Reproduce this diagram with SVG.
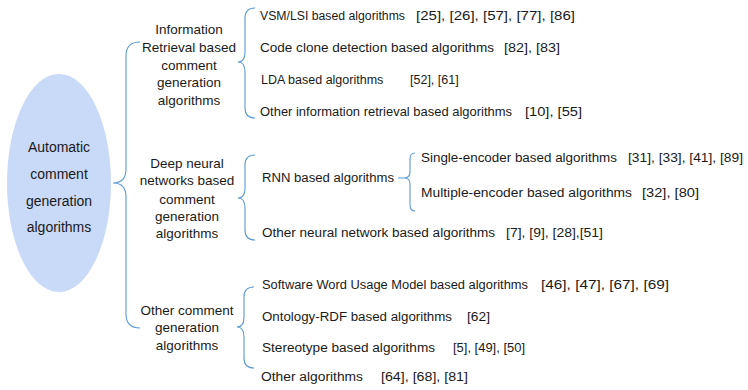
<svg xmlns="http://www.w3.org/2000/svg" width="748" height="390" viewBox="0 0 748 390">
<style>
text{font-family:"Liberation Sans",Arial,sans-serif;fill:#1a1a1a}
.c{font-size:13.5px;text-anchor:middle}
.e{font-size:14px;text-anchor:middle}
.l{font-size:12.5px}
.b{fill:none;stroke:#5b9bd5;stroke-width:1.1}
</style>
<rect width="748" height="390" fill="#ffffff"/>
<g id="root">
<ellipse cx="59" cy="183" rx="52" ry="109" fill="#c9d9f8"/>
<text class="e" x="59" y="151.5">Automatic</text>
<text class="e" x="59" y="178.5">comment</text>
<text class="e" x="59" y="205.5">generation</text>
<text class="e" x="59" y="231.5">algorithms</text>
</g>
<g id="connectors">
<path class="b" d="M140,42 Q126,42 126,56 L126,169 Q126,183 113,183 Q126,183 126,197 L126,314 Q126,328 140,328"/>
<path class="b" d="M255,8 Q245,8 245,18 L245,52 Q245,62 238,62 Q245,62 245,72 L245,108 Q245,118 255,118"/>
<path class="b" d="M255,155 Q245,155 245,165 L245,188 Q245,198 238,198 Q245,198 245,208 L245,230 Q245,240 255,240"/>
<path class="b" d="M254,287 Q244,287 244,297 L244,317 Q244,327 237,327 Q244,327 244,337 L244,358 Q244,368 254,368"/>
<path class="b" d="M415,153 Q410,153 410,159 L410,172 Q410,178 404,178 L398,178 M404,178 Q410,178 410,184 L410,205 Q410,211 415,211"/>
</g>
<g id="cat-ir">
<text class="c" x="189" y="34">Information</text>
<text class="c" x="189" y="52">Retrieval based</text>
<text class="c" x="189" y="69.5">comment</text>
<text class="c" x="189" y="87">generation</text>
<text class="c" x="189" y="104.5">algorithms</text>
</g>
<g id="cat-dnn">
<text class="c" x="187" y="168">Deep neural</text>
<text class="c" x="187" y="185">networks based</text>
<text class="c" x="187" y="203.5">comment</text>
<text class="c" x="187" y="221">generation</text>
<text class="c" x="187" y="238">algorithms</text>
</g>
<g id="cat-other">
<text class="c" x="187" y="314.5">Other comment</text>
<text class="c" x="187" y="332">generation</text>
<text class="c" x="187" y="349.5">algorithms</text>
</g>
<g id="leaf-vsm">
<text class="l" x="260" y="19.5" textLength="145" lengthAdjust="spacingAndGlyphs">VSM/LSI based algorithms</text>
<text class="l" x="416" y="19.5" textLength="159" lengthAdjust="spacingAndGlyphs">[25], [26], [57], [77], [86]</text>
</g>
<g id="leaf-clone">
<text class="l" x="260" y="51.5" textLength="234" lengthAdjust="spacingAndGlyphs">Code clone detection based algorithms</text>
<text class="l" x="504" y="51.5" textLength="56" lengthAdjust="spacingAndGlyphs">[82], [83]</text>
</g>
<g id="leaf-lda">
<text class="l" x="261" y="84">LDA based algorithms</text>
<text class="l" x="410" y="84">[52], [61]</text>
</g>
<g id="leaf-otherir">
<text class="l" x="260" y="115.5" textLength="252" lengthAdjust="spacingAndGlyphs">Other information retrieval based algorithms</text>
<text class="l" x="525" y="115.5" textLength="57" lengthAdjust="spacingAndGlyphs">[10], [55]</text>
</g>
<g id="leaf-rnn">
<text class="l" x="262" y="181.5" textLength="132" lengthAdjust="spacingAndGlyphs">RNN based algorithms</text>
</g>
<g id="leaf-single">
<text class="l" x="421" y="162" textLength="196" lengthAdjust="spacingAndGlyphs">Single-encoder based algorithms</text>
<text class="l" x="628" y="162" textLength="115" lengthAdjust="spacingAndGlyphs">[31], [33], [41], [89]</text>
</g>
<g id="leaf-multi">
<text class="l" x="421" y="196.5" textLength="211" lengthAdjust="spacingAndGlyphs">Multiple-encoder based algorithms</text>
<text class="l" x="642" y="196.5" textLength="57" lengthAdjust="spacingAndGlyphs">[32], [80]</text>
</g>
<g id="leaf-otherdnn">
<text class="l" x="262" y="236.5" textLength="233" lengthAdjust="spacingAndGlyphs">Other neural network based algorithms</text>
<text class="l" x="506" y="236.5" textLength="97" lengthAdjust="spacingAndGlyphs">[7], [9], [28],[51]</text>
</g>
<g id="leaf-swum">
<text class="l" x="262" y="289" textLength="266" lengthAdjust="spacingAndGlyphs">Software Word Usage Model based algorithms</text>
<text class="l" x="541" y="289" textLength="128" lengthAdjust="spacingAndGlyphs">[46], [47], [67], [69]</text>
</g>
<g id="leaf-ontology">
<text class="l" x="262" y="320.5" textLength="190" lengthAdjust="spacingAndGlyphs">Ontology-RDF based algorithms</text>
<text class="l" x="467" y="320.5" textLength="23" lengthAdjust="spacingAndGlyphs">[62]</text>
</g>
<g id="leaf-stereo">
<text class="l" x="262" y="351.5" textLength="173" lengthAdjust="spacingAndGlyphs">Stereotype based algorithms</text>
<text class="l" x="453" y="351.5" textLength="72" lengthAdjust="spacingAndGlyphs">[5], [49], [50]</text>
</g>
<g id="leaf-otheralg">
<text class="l" x="261" y="380.5" textLength="102" lengthAdjust="spacingAndGlyphs">Other algorithms</text>
<text class="l" x="381" y="380.5" textLength="87" lengthAdjust="spacingAndGlyphs">[64], [68], [81]</text>
</g>
</svg>
